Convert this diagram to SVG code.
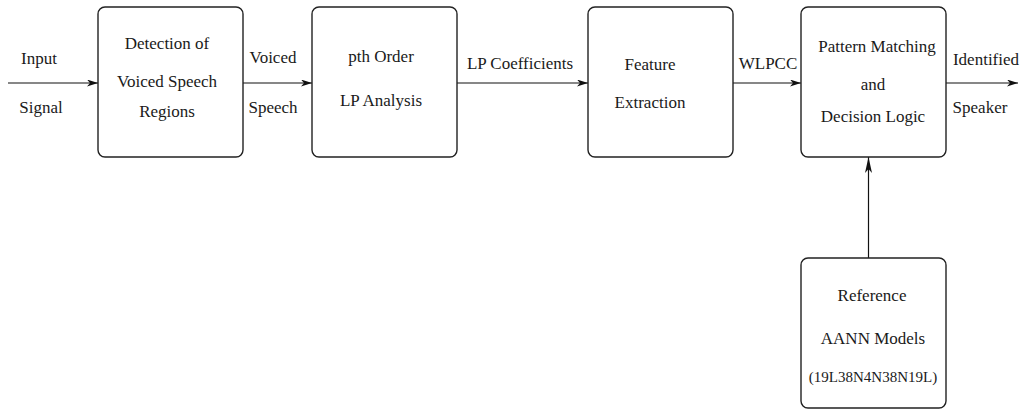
<svg xmlns="http://www.w3.org/2000/svg" width="1020" height="411" viewBox="0 0 1020 411">
  <style>
    .box { fill: #ffffff; stroke: #222222; stroke-width: 1.4; }
    .wire { fill: none; stroke: #111111; stroke-width: 1.2; }
    text { font-family: "Liberation Serif", "Times New Roman", "DejaVu Serif", serif; font-size: 17px; fill: #1a1a1a; text-anchor: middle; }
    .small { font-size: 15px; }
  </style>
  <defs>
    <marker id="head" markerUnits="userSpaceOnUse" markerWidth="14" markerHeight="10" refX="11" refY="3.5" orient="auto">
      <path d="M0,0 L11,3.5 L0,7 L3,3.5 Z" fill="#111111"/>
    </marker>
    <marker id="headLong" markerUnits="userSpaceOnUse" markerWidth="20" markerHeight="10" refX="16" refY="3.5" orient="auto">
      <path d="M0,0 L16,3.5 L0,7 L4,3.5 Z" fill="#111111"/>
    </marker>
  </defs>

  <!-- connectors and their labels -->
  <g id="connectors">
    <line class="wire" x1="8" y1="83" x2="98" y2="83" marker-end="url(#head)"/>
    <line class="wire" x1="243" y1="83" x2="312" y2="83" marker-end="url(#head)"/>
    <line class="wire" x1="457" y1="83" x2="588" y2="83" marker-end="url(#head)"/>
    <line class="wire" x1="733" y1="83" x2="801" y2="83" marker-end="url(#head)"/>
    <line class="wire" x1="946" y1="83" x2="1018" y2="83" marker-end="url(#head)"/>
    <line class="wire" x1="868.5" y1="258" x2="868.5" y2="157" marker-end="url(#headLong)"/>
    <text x="39" y="64">Input</text>
    <text x="41" y="113">Signal</text>
    <text x="273" y="63">Voiced</text>
    <text x="273" y="113">Speech</text>
    <text x="520" y="69">LP Coefficients</text>
    <text x="768" y="69">WLPCC</text>
    <text x="986" y="65">Identified</text>
    <text x="980" y="113">Speaker</text>
  </g>

  <g id="detection">
    <rect class="box" x="98" y="7" width="145" height="150" rx="7"/>
    <text x="167" y="49">Detection of</text>
    <text x="167" y="87">Voiced Speech</text>
    <text x="167" y="117">Regions</text>
  </g>

  <g id="lp-analysis">
    <rect class="box" x="312" y="7" width="145" height="150" rx="7"/>
    <text x="381" y="62">pth Order</text>
    <text x="381" y="106">LP Analysis</text>
  </g>

  <g id="feature-extraction">
    <rect class="box" x="588" y="7" width="145" height="150" rx="7"/>
    <text x="650" y="70">Feature</text>
    <text x="650" y="108">Extraction</text>
  </g>

  <g id="pattern-matching">
    <rect class="box" x="801" y="7" width="145" height="150" rx="7"/>
    <text x="877" y="52">Pattern Matching</text>
    <text x="873" y="90">and</text>
    <text x="873" y="122">Decision Logic</text>
  </g>

  <g id="reference-models">
    <rect class="box" x="801" y="258" width="145" height="150" rx="7"/>
    <text x="872" y="301">Reference</text>
    <text x="873" y="344">AANN Models</text>
    <text class="small" x="873" y="382">(19L38N4N38N19L)</text>
  </g>
</svg>
